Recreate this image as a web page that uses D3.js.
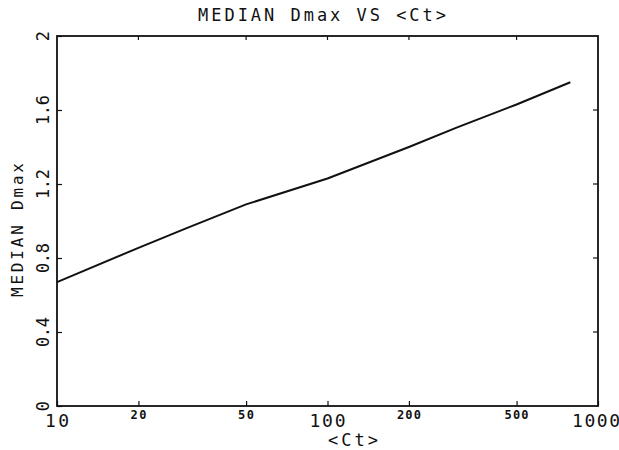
<!DOCTYPE html>
<html>
<head>
<meta charset="utf-8">
<script src="https://cdn.jsdelivr.net/npm/d3@7"></script>
<style>
  body { margin: 0; background: #fff; }
  text { font-family: "DejaVu Sans Mono", "Liberation Mono", monospace; fill: #111; }
</style>
</head>
<body>
<svg id="chart" width="619" height="450"></svg>
<script>
// median Dmax
const ct = [10, 20, 30, 50, 100, 200, 300, 500, 790];
const dmax = [0.67, 0.855, 0.96, 1.09, 1.23, 1.40, 1.505, 1.63, 1.75];
const xTicks = [10, 20, 50, 100, 200, 500, 1000];
const yTicks = [0, 0.4, 0.8, 1.2, 1.6, 2];

const width = 619, height = 450;
const margin = { left: 57, top: 36, right: 21, bottom: 44 };
const innerWidth = width - margin.left - margin.right;
const innerHeight = height - margin.top - margin.bottom;

const svg = d3.select("#chart");
const g = svg.append("g")
             .attr("transform", `translate(${margin.left}, ${margin.top})`);

const xScale = d3.scaleLog().domain([10, 1000]).range([0, innerWidth]);
const yScale = d3.scaleLinear().domain([0, 2]).range([innerHeight, 0]);

const big = d => d === 10 || d === 100 || d === 1000;

const xAxis = d3.axisBottom(xScale)
                .tickValues(xTicks)
                .tickSize(-5)
                .tickFormat("");
const yAxis = d3.axisLeft(yScale)
                .tickValues(yTicks)
                .tickSize(-5)
                .tickFormat("");

const gx = g.append("g")
            .attr("id", "x-axis")
            .attr("transform", `translate(0, ${innerHeight})`)
            .call(xAxis);
gx.select(".domain").remove();
gx.selectAll(".tick line").attr("stroke", "#111").attr("stroke-width", 1.2);

const gy = g.append("g")
            .attr("id", "y-axis")
            .call(yAxis);
gy.select(".domain").remove();
gy.selectAll(".tick line").attr("stroke", "#111").attr("stroke-width", 1.2);

// x tick labels: decades large, others small and bold
g.append("g").selectAll("text").data(xTicks).join("text")
 .attr("x", d => d === 1000 ? innerWidth - 2 : xScale(d))
 .attr("y", d => innerHeight + (big(d) ? 21 : 13))
 .attr("text-anchor", "middle")
 .attr("font-size", d => big(d) ? 18 : 12)
 .attr("font-weight", d => big(d) ? "normal" : "bold")
 .attr("textLength", d => big(d) ? String(d).length * 12 : String(d).length * 8)
 .attr("lengthAdjust", "spacing")
 .text(d => d3.format("d")(d));

// rotated y tick labels
g.append("g").selectAll("text").data(yTicks).join("text")
 .attr("transform", d => `translate(-14, ${yScale(d)}) rotate(-90)`)
 .attr("text-anchor", "middle")
 .attr("dy", "0.35em")
 .attr("font-size", 17)
 .attr("textLength", d => d === 0 || d === 2 ? null : 30)
 .attr("lengthAdjust", "spacing")
 .text(d => d === 0 || d === 2 ? d3.format("d")(d) : d3.format(".1f")(d));

// top and right ticks
g.append("g").selectAll("line").data([20, 50, 100, 200, 500]).join("line")
 .attr("x1", d => xScale(d)).attr("x2", d => xScale(d))
 .attr("y1", 0).attr("y2", 4)
 .attr("stroke", "#111").attr("stroke-width", 1.2);
g.append("g").selectAll("line").data([0.4, 0.8, 1.2, 1.6]).join("line")
 .attr("x1", innerWidth).attr("x2", innerWidth - 5)
 .attr("y1", d => yScale(d)).attr("y2", d => yScale(d))
 .attr("stroke", "#111").attr("stroke-width", 1.2);

// frame
g.append("rect")
 .attr("width", innerWidth)
 .attr("height", innerHeight)
 .attr("fill", "none")
 .attr("stroke", "#111")
 .attr("stroke-width", 1.8);

const line = d3.line()
               .x((d, i) => xScale(ct[i]))
               .y(d => yScale(d));

g.append("path")
 .attr("d", line(dmax))
 .attr("stroke", "#111")
 .attr("stroke-width", 2)
 .attr("fill", "none");

svg.append("text")
   .attr("x", 322)
   .attr("y", 21)
   .attr("text-anchor", "middle")
   .attr("font-size", 17)
   .attr("textLength", 248)
   .attr("lengthAdjust", "spacing")
   .text("MEDIAN Dmax VS <Ct>");

svg.append("text")
   .attr("x", 353)
   .attr("y", 446)
   .attr("text-anchor", "middle")
   .attr("font-size", 17)
   .attr("textLength", 50)
   .attr("lengthAdjust", "spacing")
   .text("<Ct>");

svg.append("text")
   .attr("transform", "translate(23, 230) rotate(-90)")
   .attr("text-anchor", "middle")
   .attr("font-size", 16)
   .attr("textLength", 134)
   .attr("lengthAdjust", "spacing")
   .text("MEDIAN Dmax");
</script>
</body>
</html>
